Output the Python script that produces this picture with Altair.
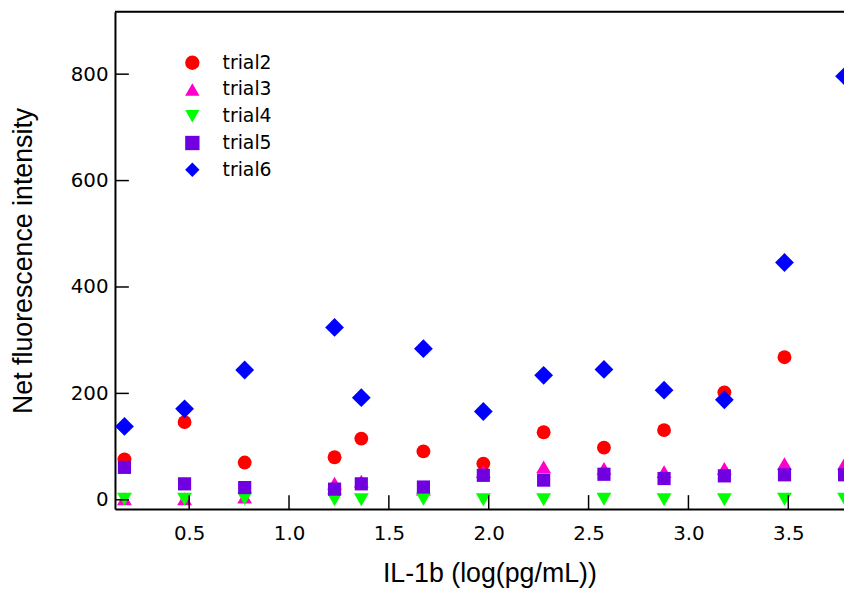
import altair as alt
import pandas as pd

# ---- data ----
x_vals = [0.176, 0.477, 0.778, 1.228, 1.362, 1.673, 1.973, 2.275, 2.577, 2.878, 3.180, 3.481, 3.782]
trial2 = [76, 146, 70, 80, 115, 91, 68, 127, 98, 131, 202, 268, None]
trial3 = [2, 2, 5, 31, 35, 20, 53, 62, 59, 53, 59, 68, 68]
trial4 = [1, 1, 2, 0, 0, 1, 0, 0, 1, 0, 0, 1, 1]
trial5 = [61, 30, 23, 20, 30, 24, 46, 37, 48, 40, 45, 47, 47]
trial6 = [138, 171, 244, 324, 192, 284, 166, 234, 245, 206, 188, 446, 796]

series_names = ["trial2", "trial3", "trial4", "trial5", "trial6"]
series_vals = [trial2, trial3, trial4, trial5, trial6]
colors = ["#FF0000", "#FF00CC", "#00FF00", "#7000E0", "#0000FF"]
shapes = ["circle", "triangle-up", "triangle-down", "square", "diamond"]
sizes = [196, 225, 225, 177, 360]

y_ticks = [0, 200, 400, 600, 800]
x_ticks = [0.5, 1.0, 1.5, 2.0, 2.5, 3.0, 3.5]

rows = []
for name, vals in zip(series_names, series_vals):
    for xv, yv in zip(x_vals, vals):
        if yv is not None:
            rows.append({"x": xv, "y": yv, "trial": name})
df = pd.DataFrame(rows)

W = 736
H = 502
x_domain = [0.1285, 3.779]
y_domain = [-17.3, 917.3]

xscale = alt.Scale(domain=x_domain, nice=False, zero=False)
yscale = alt.Scale(domain=y_domain, nice=False, zero=False)

x_axis = alt.Axis(values=x_ticks, format=".1f", ticks=False, grid=False,
                  domainColor="black", domainWidth=2, domainOpacity=1,
                  labelFont="DejaVu Sans", labelFontSize=20, labelColor="black",
                  labelPadding=15,
                  title="IL-1b (log(pg/mL))", titleFont="Liberation Sans",
                  titleFontSize=27, titleFontWeight="normal", titleColor="black",
                  titleX=378, titleY=65, titleBaseline="middle", titleAlign="center")
y_axis = alt.Axis(values=y_ticks, ticks=False, grid=False,
                  domainColor="black", domainWidth=2, domainOpacity=1,
                  labelFont="DejaVu Sans", labelFontSize=20, labelColor="black",
                  labelPadding=7,
                  title="Net fluorescence intensity", titleFont="Liberation Sans",
                  titleFontSize=27, titleFontWeight="normal", titleColor="black",
                  titleX=-92, titleY=251, titleBaseline="middle", titleAlign="center",
                  titleAngle=270)

color_enc = alt.Color("trial:N", scale=alt.Scale(domain=series_names, range=colors),
                      legend=alt.Legend(title=None, orient="none", legendX=68.6, legendY=42,
                                        labelFont="DejaVu Sans", labelFontSize=19,
                                        labelColor="black", labelOffset=21,
                                        symbolSize=210, rowPadding=7, padding=0,
                                        symbolStrokeWidth=0))
shape_enc = alt.Shape("trial:N", scale=alt.Scale(domain=series_names, range=shapes))

layers = []
for name, sz in zip(series_names, sizes):
    layers.append(
        alt.Chart(df).transform_filter(alt.datum.trial == name)
        .mark_point(filled=True, opacity=1, strokeWidth=0, size=sz)
        .encode(
            x=alt.X("x:Q", scale=xscale, axis=x_axis),
            y=alt.Y("y:Q", scale=yscale, axis=y_axis),
            color=color_enc,
            shape=shape_enc,
        )
    )

ytick_layer = alt.Chart(pd.DataFrame({"v": y_ticks})).mark_rule(color="black", strokeWidth=1.5).encode(
    y=alt.Y("v:Q", scale=yscale, axis=y_axis),
    x=alt.value(0), x2=alt.value(14),
)
xtick_layer = alt.Chart(pd.DataFrame({"v": x_ticks})).mark_rule(color="black", strokeWidth=1.5).encode(
    x=alt.X("v:Q", scale=xscale, axis=x_axis),
    y=alt.value(H), y2=alt.value(H - 14),
)
top_line = alt.Chart(pd.DataFrame({"a": [0]})).mark_rule(color="black", strokeWidth=2).encode(
    x=alt.value(0), x2=alt.value(W), y=alt.value(0),
)

chart = alt.layer(*layers, ytick_layer, xtick_layer, top_line).properties(
    width=W, height=H,
    padding={"left": 108, "top": 1, "right": 0, "bottom": 82},
    autosize=alt.AutoSizeParams(type="none"),
).configure_view(stroke=None).configure(background="white")

chart.save("out.html", embed_options={"renderer": "svg", "actions": False})
